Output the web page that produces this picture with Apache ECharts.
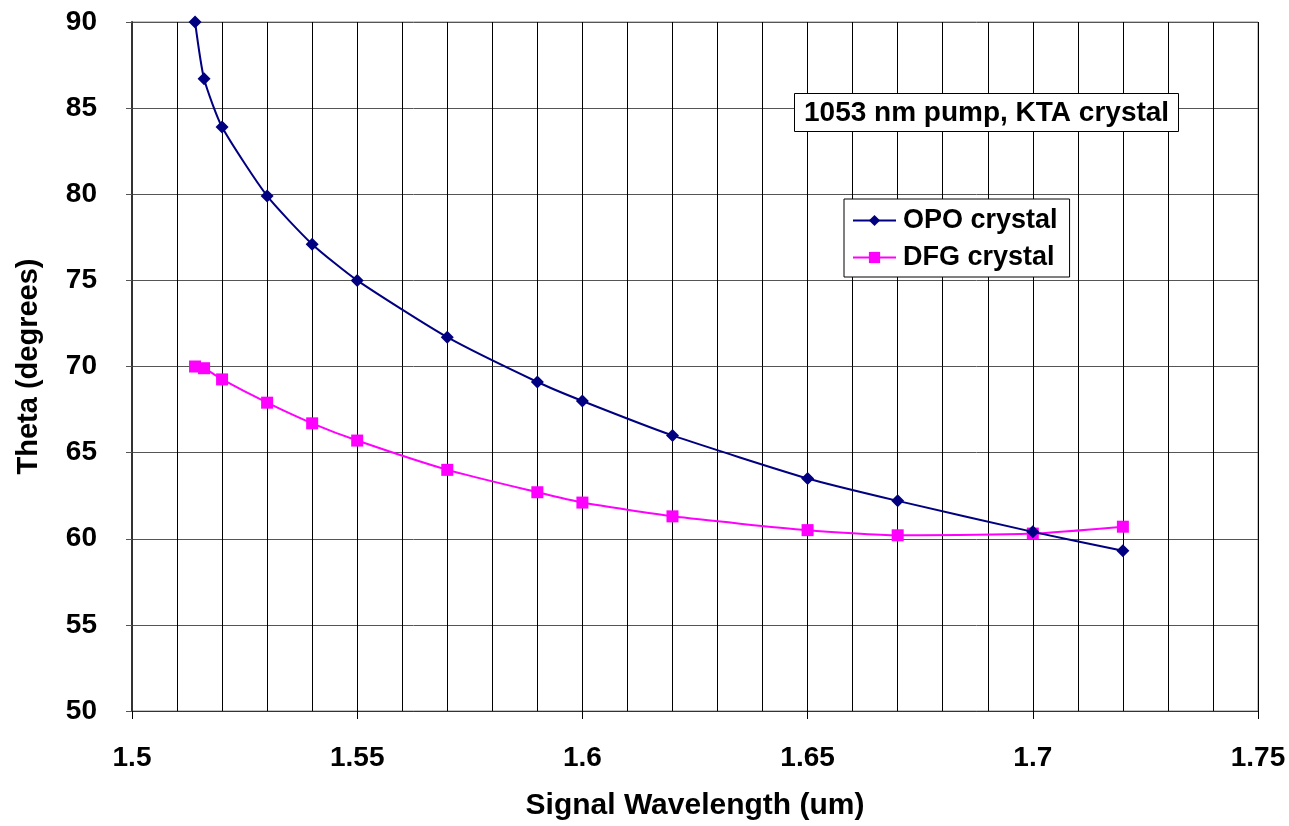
<!DOCTYPE html>
<html>
<head>
<meta charset="utf-8">
<script src="https://cdn.jsdelivr.net/npm/echarts@6/dist/echarts.min.js"></script>
<style>html,body{margin:0;padding:0;background:#fff}#c{width:1289px;height:826px}</style>
</head>
<body>
<div id="c"></div>
<script>
const wavelengths = [1.514, 1.516, 1.52, 1.53, 1.54, 1.55, 1.57, 1.59, 1.6, 1.62, 1.65, 1.67, 1.7, 1.72];
const opoTheta = [90.0, 86.7, 83.9, 79.9, 77.1, 75.0, 71.7, 69.1, 68.0, 66.0, 63.5, 62.2, 60.4, 59.3];
const dfgTheta = [70.0, 69.9, 69.25, 67.9, 66.7, 65.7, 64.0, 62.7, 62.1, 61.3, 60.5, 60.2, 60.3, 60.7];
const seriesNames = ['OPO crystal', 'DFG crystal'];
const annotation = '1053 nm pump, KTA crystal';
const xTitle = 'Signal Wavelength (um)';
const yTitle = 'Theta (degrees)';

const FONT = '"Liberation Sans", Arial, sans-serif';
const chart = echarts.init(document.getElementById('c'));
const pairs = (ys) => wavelengths.map((x, i) => [x, ys[i]]);

chart.setOption({
  animation: false,
  backgroundColor: '#fff',
  textStyle: { fontFamily: FONT },
  title: {
    text: annotation,
    left: 794, top: 93,
    padding: [6, 10, 5, 10],
    borderColor: '#000', borderWidth: 1, backgroundColor: '#fff',
    textStyle: { fontFamily: FONT, fontWeight: 'bold', fontSize: 28, color: '#000' }
  },
  legend: {
    orient: 'vertical',
    left: 844, top: 199,
    padding: [8, 12, 6, 8],
    itemGap: 10,
    itemWidth: 43, itemHeight: 14,
    borderColor: '#000', borderWidth: 1, backgroundColor: '#fff',
    textStyle: { fontFamily: FONT, fontWeight: 'bold', fontSize: 27, color: '#000', padding: [0, 0, 0, 2] },
    data: seriesNames
  },
  grid: { left: 132, right: 31, top: 22, bottom: 113, show: true, borderColor: '#888', borderWidth: 1, backgroundColor: '#fff' },
  xAxis: {
    type: 'value', min: 1.5, max: 1.75, interval: 0.05,
    name: xTitle, nameLocation: 'middle', nameGap: 80,
    nameTextStyle: { fontFamily: FONT, fontWeight: 'bold', fontSize: 30, color: '#000' },
    axisLine: { lineStyle: { color: '#333', width: 1 } },
    axisTick: { show: true, length: 8, lineStyle: { color: '#000' } },
    axisLabel: { fontFamily: FONT, fontWeight: 'bold', fontSize: 28, color: '#000', margin: 33 },
    splitLine: { show: true, lineStyle: { color: '#000', width: 1 } },
    minorTick: { show: false, splitNumber: 5 },
    minorSplitLine: { show: true, lineStyle: { color: '#000', width: 1 } }
  },
  yAxis: {
    type: 'value', min: 50, max: 90, interval: 5,
    name: yTitle, nameLocation: 'middle', nameGap: 89, nameRotate: 90,
    nameTextStyle: { fontFamily: FONT, fontWeight: 'bold', fontSize: 29, color: '#000' },
    axisLine: { show: true, lineStyle: { color: '#333', width: 2 } },
    axisTick: { show: true, length: 6, lineStyle: { color: '#555' } },
    axisLabel: { fontFamily: FONT, fontWeight: 'bold', fontSize: 28, color: '#000', margin: 35 },
    splitLine: { show: true, lineStyle: { color: '#555', width: 1 } }
  },
  series: [
    {
      name: seriesNames[0], type: 'line', data: pairs(opoTheta),
      smooth: 0.2, symbol: 'diamond', symbolSize: 13,
      lineStyle: { color: '#000080', width: 2 },
      itemStyle: { color: '#000080' }, z: 3
    },
    {
      name: seriesNames[1], type: 'line', data: pairs(dfgTheta),
      smooth: 0.2, symbol: 'rect', symbolSize: 12,
      lineStyle: { color: '#FF00FF', width: 2 },
      itemStyle: { color: '#FF00FF' }, z: 2
    }
  ]
});
</script>
</body>
</html>
